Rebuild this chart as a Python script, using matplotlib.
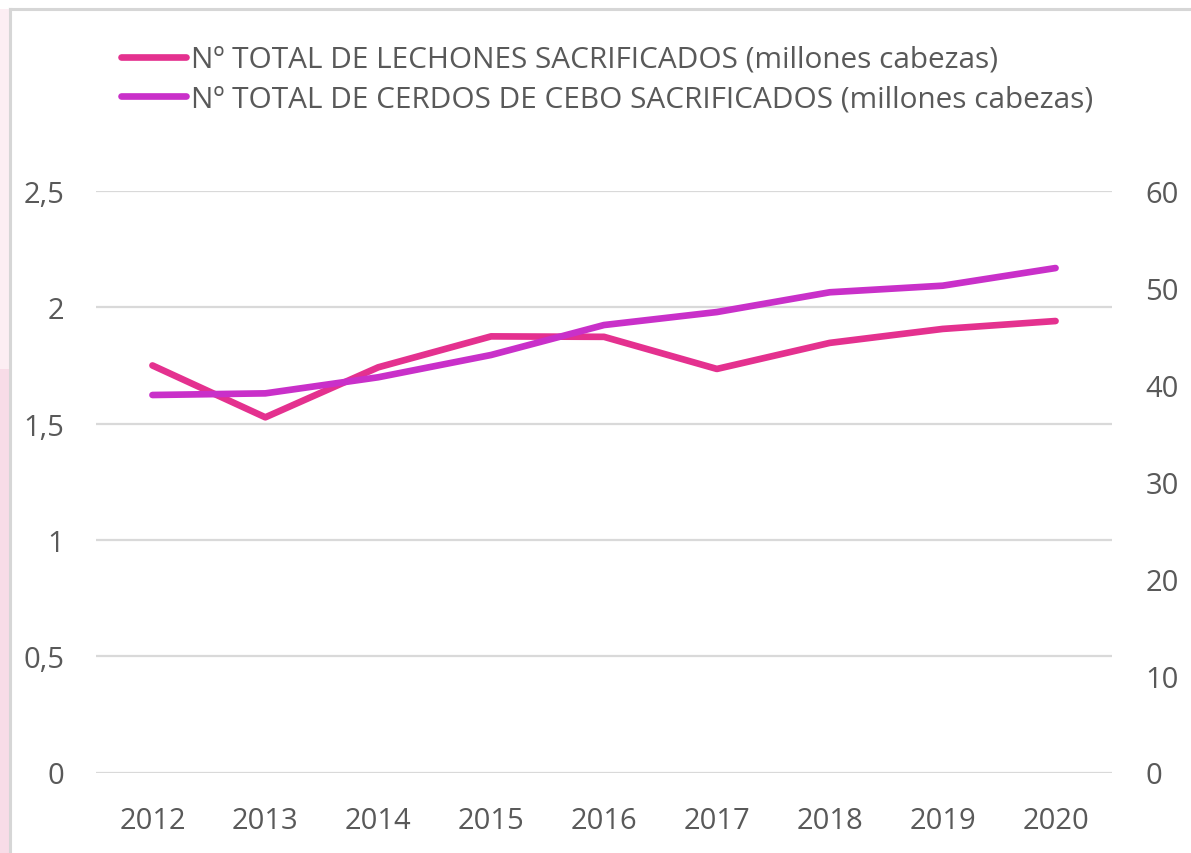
import matplotlib
matplotlib.use("Agg")
import matplotlib.pyplot as plt
from matplotlib.patches import Rectangle
from matplotlib.lines import Line2D
from matplotlib.ticker import FuncFormatter

years = ["2012", "2013", "2014", "2015", "2016", "2017", "2018", "2019", "2020"]
lechones = [1.750, 1.527, 1.742, 1.875, 1.873, 1.735, 1.847, 1.907, 1.941]
cebo = [38.95, 39.12, 40.78, 43.08, 46.17, 47.51, 49.55, 50.23, 52.05]
label_lechones = "Nº TOTAL DE LECHONES SACRIFICADOS (millones cabezas)"
label_cebo = "Nº TOTAL DE CERDOS DE CEBO SACRIFICADOS (millones cabezas)"

c_lech = "#E4318F"
c_cebo = "#C930C9"
txt = "#595959"
grid_c = "#D9D9D9"
FONT = "Open Sans"
FS = 21

W, H = 1191, 854
fig = plt.figure(figsize=(W / 100, H / 100), dpi=100)
fig.patch.set_facecolor("white")

# decorative pink strip and frame
fig.patches.append(Rectangle((0, 0), 9 / W, 1 - 370 / H, transform=fig.transFigure,
                             facecolor="#F8DCE7", edgecolor="none", zorder=0))
fig.patches.append(Rectangle((0, 1 - 370 / H), 9 / W, 370 / H - 10 / H, transform=fig.transFigure,
                             facecolor="#FCEEF3", edgecolor="none", zorder=0))
fig.lines.append(Line2D([10 / W, 10 / W], [0, 1 - 10 / H], transform=fig.transFigure,
                        color="#D6D6D6", lw=2.2))
fig.lines.append(Line2D([10 / W, 1], [1 - 10 / H, 1 - 10 / H], transform=fig.transFigure,
                        color="#D6D6D6", lw=2.2))

left, right = 96 / W, 1112 / W
bottom, top = 1 - 773.5 / H, 1 - 192 / H
ax = fig.add_axes([left, bottom, right - left, top - bottom])
ax.set_facecolor("none")
x = list(range(len(years)))

ax.set_xlim(-0.5, len(years) - 0.5)
ax.set_ylim(0, 2.5)
ax.set_yticks([0, 0.5, 1, 1.5, 2, 2.5])
ax.yaxis.set_major_formatter(FuncFormatter(lambda v, p: ("%g" % v).replace(".", ",")))
ax.grid(axis="y", color=grid_c, lw=1.6)
ax.set_axisbelow(True)
for s in ax.spines.values():
    s.set_visible(False)
ax.tick_params(axis="both", length=0, labelsize=FS, labelcolor=txt)
ax.tick_params(axis="y", pad=23)
ax.tick_params(axis="x", pad=24)
ax.set_xticks(x)
ax.set_xticklabels(years)
for lab in ax.get_xticklabels() + ax.get_yticklabels():
    lab.set_fontfamily(FONT)

l1, = ax.plot(x, lechones, color=c_lech, lw=4.8, solid_capstyle="round",
              solid_joinstyle="round", label=label_lechones, zorder=3)

ax2 = ax.twinx()
ax2.set_ylim(0, 60)
ax2.set_yticks([0, 10, 20, 30, 40, 50, 60])
for s in ax2.spines.values():
    s.set_visible(False)
ax2.tick_params(axis="y", length=0, labelsize=FS, labelcolor=txt, pad=24)
for lab in ax2.get_yticklabels():
    lab.set_fontfamily(FONT)
l2, = ax2.plot(x, cebo, color=c_cebo, lw=4.8, solid_capstyle="round",
               solid_joinstyle="round", label=label_cebo, zorder=3)

fig.legend(handles=[l1, l2], loc="upper left",
           bbox_to_anchor=(121 / W, 1 - 46 / H), frameon=False,
           prop={"family": FONT, "size": 21.4}, labelcolor=txt,
           handlelength=2.2, handletextpad=0.15, labelspacing=0.34,
           borderpad=0, borderaxespad=0)

fig.savefig("out.png", dpi=100)
